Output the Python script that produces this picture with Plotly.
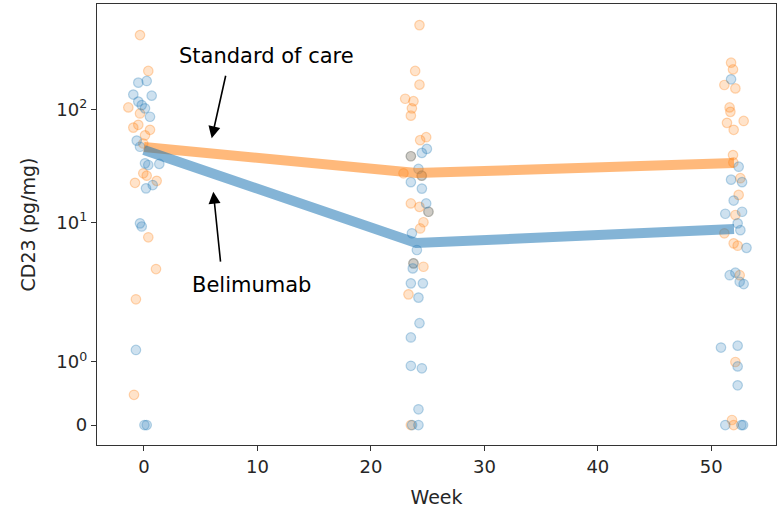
import numpy as np
import plotly.graph_objects as go

# ---------------- data ----------------
# Standard of care (orange) individual points: week (jittered) and CD23 value
soc_week = [-0.35, 0.38, -1.38, -0.94, -0.5, 0.53, 0.09, -0.35, -0.06, -0.06, -0.79, 1.12, 0.24,
            0.38, 1.06, -0.71, -0.88,
            24.28, 23.9, 24.28, 23.02, 23.75, 23.61, 23.52, 24.87, 24.34, 22.87, 23.52, 24.28,
            24.63, 24.34, 24.63, 23.31, 23.52, 23.52, 24.46, 25.07, 23.75,
            51.74, 51.91, 51.15, 52.12, 51.61, 51.68, 51.38, 52.85, 51.97, 51.91, 51.94, 52.56,
            52.41, 52.12, 51.15, 51.97, 52.32, 52.5, 52.12, 51.82, 51.97]
soc_val = [452, 218, 104, 69, 73, 66, 59, 92, 50, 27.3, 22.5, 23.4, 26,
           7.86, 4.65, 2.82, 0.48,
           553, 218, 165, 124, 118, 102, 88, 56.8, 53.5, 27.3, 14.8, 13.8,
           10.1, 9.1, 4.83, 3.06, 0, 38.6, 26, 12.5, 5.11,
           258, 225, 164, 153, 104, 95, 76, 79, 66, 39.5, 34, 24.7,
           17.6, 11.7, 8.4, 7.11, 6.84, 4.2, 1.0, 0.08, 0]

# Belimumab (blue) individual points
bel_week = [-0.5, 0.24, -0.94, 0.68, -0.5, -0.2, 0.09, 0.53, -0.64, -0.35, 0.09, 0.38, 1.35,
            0.18, 0.77, -0.35, -0.2, -0.71, 0.24, 0.04,
            24.93, 24.49, 23.52, 24.19, 24.49, 23.52, 24.49, 24.87, 25.07, 23.61, 24.05, 23.75,
            23.69, 23.52, 24.58, 24.19, 24.28, 23.52, 23.52, 24.49, 24.19, 24.19, 23.63,
            51.74, 52.41, 51.74, 52.71, 51.97, 51.23, 52.71, 52.32, 52.56, 53.1, 51.62, 52.12,
            52.5, 52.85, 50.85, 52.32, 52.32, 52.32, 51.23, 52.65, 52.8]
bel_val = [172, 178, 135, 132, 117, 109, 102, 86, 53, 46.8, 33.4, 32.3, 33,
           20.1, 21.5, 9.9, 9.4, 1.22, 0, 0,
           44.8, 41.3, 38.6, 29.8, 26, 22.8, 20, 14.8, 12.5, 8.4, 6.37, 5.11,
           4.7, 3.67, 3.67, 2.9, 1.9, 1.5, 0.94, 0.9, 0.25, 0, 0,
           184, 31.2, 24, 22.8, 15.7, 12, 12.5, 9.9, 8.85, 6.6, 4.2, 4.38,
           3.77, 3.63, 1.27, 1.31, 0.93, 0.63, 0, 0, 0]

# Group summary lines
line_weeks = [0, 24, 52]
soc_line = [46.5, 27.4, 33.6]
bel_line = [43.8, 7.15, 9.0]

ytick_vals = [0, 1, 10, 100]
ytick_text = ["0", "10<sup>0</sup>", "10<sup>1</sup>", "10<sup>2</sup>"]
xtick_vals = [0, 10, 20, 30, 40, 50]

# ---------------- symlog-like y scale (as in the reference) ----------------
P1, P10, P100 = 0.556, 1.784, 2.784


def tr(v):
    v = np.asarray(v, dtype=float)
    lv = np.log10(np.maximum(v, 1e-12))
    return np.where(v < 1, v * P1,
                    np.where(v < 10, P1 + lv * (P10 - P1),
                             P10 + (lv - 1) * (P100 - P10)))


BLUE = "31,119,180"
ORANGE = "255,127,14"
FONT = "DejaVu Sans"

fig = go.Figure()

for wk, val, c in [(soc_week, soc_val, ORANGE), (bel_week, bel_val, BLUE)]:
    fig.add_trace(go.Scatter(
        x=wk, y=tr(val), mode="markers",
        marker=dict(size=9.5, color=f"rgba({c},0.22)",
                    line=dict(width=1.2, color=f"rgba({c},0.3)")),
        showlegend=False, hoverinfo="skip"))

for vals, c in [(soc_line, ORANGE), (bel_line, BLUE)]:
    fig.add_trace(go.Scatter(
        x=line_weeks, y=tr(vals), mode="lines",
        line=dict(width=10, color=f"rgba({c},0.55)"),
        showlegend=False, hoverinfo="skip"))

# annotations (text + arrows)
fig.add_annotation(x=10.8, y=float(tr(295)), text="Standard of care", showarrow=False,
                   font=dict(family=FONT, size=21, color="black"))
fig.add_annotation(x=5.97, y=float(tr(55.5)), ax=7.23, ay=float(tr(204)),
                   axref="x", ayref="y", text="", showarrow=True,
                   arrowhead=2, arrowsize=1.5, arrowwidth=1.6, arrowcolor="black")
fig.add_annotation(x=9.5, y=float(tr(3.57)), text="Belimumab", showarrow=False,
                   font=dict(family=FONT, size=21, color="black"))
fig.add_annotation(x=6.11, y=float(tr(18.8)), ax=6.76, ay=float(tr(5.13)),
                   axref="x", ayref="y", text="", showarrow=True,
                   arrowhead=2, arrowsize=1.5, arrowwidth=1.6, arrowcolor="black")

axis_common = dict(showline=True, mirror=True, linecolor="#333333", linewidth=1.3,
                   ticks="outside", ticklen=5, tickcolor="#333333", tickwidth=1.2,
                   showgrid=False, zeroline=False, automargin=False,
                   tickfont=dict(family=FONT, size=18, color="#262626"))

fig.update_xaxes(range=[-4.14, 55.7], tickvals=xtick_vals,
                 title=dict(text="Week", font=dict(family=FONT, size=19, color="#262626"),
                            standoff=14),
                 **axis_common)
fig.update_yaxes(range=[-0.176, 3.713], tickvals=list(tr(ytick_vals)), ticktext=ytick_text,
                 title=dict(text="CD23 (pg/mg)", font=dict(family=FONT, size=19, color="#262626"),
                            standoff=15),
                 **axis_common)

fig.update_layout(width=780, height=515, margin=dict(l=97, r=4, t=4, b=70),
                  plot_bgcolor="white", paper_bgcolor="white", showlegend=False)

fig.write_html("out.html", config={"displayModeBar": False},
               post_script="document.body.style.margin='0';document.body.style.overflow='hidden';")
